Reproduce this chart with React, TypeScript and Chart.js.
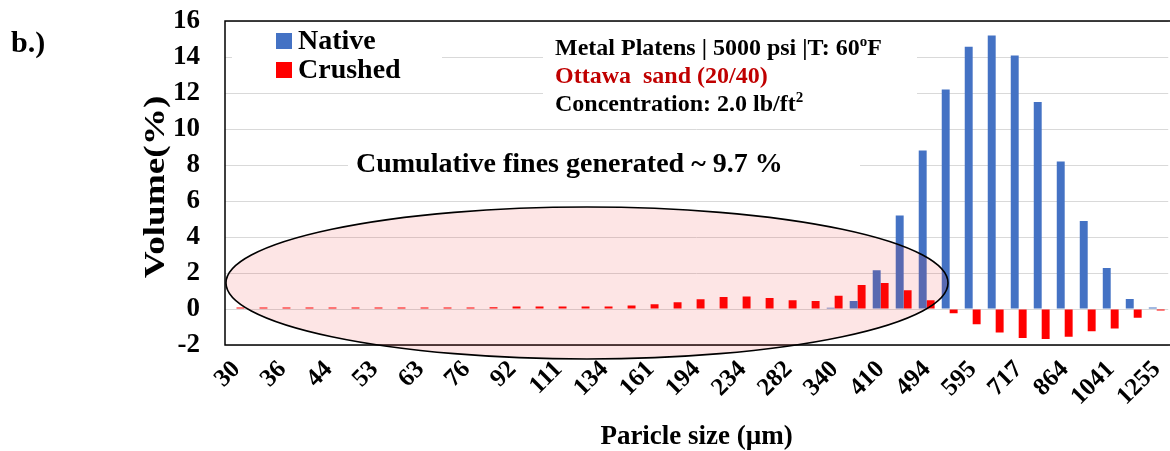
import { useEffect, useRef } from "react";
import { Chart, registerables } from "chart.js";

Chart.register(...registerables);

// Sieve bin sizes (µm); every other bin is labelled on the axis
const particleSizes = [
  "30", "33", "36", "40", "44", "48", "53", "58", "63", "69", "76", "84", "92", "101",
  "111", "122", "134", "147", "161", "177", "194", "213", "234", "257", "282", "310",
  "340", "373", "410", "450", "494", "542", "595", "653", "717", "787", "864", "949",
  "1041", "1143", "1255",
];

// Volume fraction (%) per bin for the native proppant
const nativeVolume = [
  0, 0, 0, 0, 0, 0, 0, 0, 0, 0, 0, 0, 0, 0, 0, 0, 0, 0, 0, 0, 0, 0, 0, 0, 0, 0,
  0.07, 0.44, 2.15, 5.19, 8.81, 12.2, 14.57, 15.2, 14.09, 11.5, 8.19, 4.89, 2.28, 0.56, 0.09,
];

// Change in volume fraction (%) per bin after crushing
const crushedVolume = [
  0.09, 0.09, 0.09, 0.09, 0.09, 0.09, 0.09, 0.09, 0.09, 0.09, 0.09, 0.1,
  0.14, 0.14, 0.14, 0.14, 0.14, 0.19, 0.26, 0.38, 0.54, 0.67, 0.7, 0.61, 0.48, 0.44,
  0.74, 1.33, 1.44, 1.04, 0.48, -0.24, -0.85, -1.31, -1.61, -1.67, -1.54, -1.24, -1.09, -0.48, -0.09,
];

const yMin = -2;
const yMax = 16;
const yStep = 2;

const SERIF = '"Liberation Serif", "Times New Roman", serif';
const boldFont = (px: number) => `bold ${px}px ${SERIF}`;

type Run = { text: string; size: number; color?: string; dy?: number };

function drawRuns(ctx: CanvasRenderingContext2D, x: number, y: number, runs: Run[]) {
  let cx = x;
  ctx.textAlign = "left";
  ctx.textBaseline = "alphabetic";
  for (const r of runs) {
    ctx.font = boldFont(r.size);
    ctx.fillStyle = r.color || "#000";
    ctx.fillText(r.text, cx, y + (r.dy || 0));
    cx += ctx.measureText(r.text).width;
  }
}

// White-filled text boxes that sit above the gridlines
const textBoxes = [
  { x: 232, y: 25, w: 210, h: 60 },
  { x: 543, y: 27, w: 374, h: 93 },
  { x: 348, y: 140, w: 512, h: 45 },
];

const decorPlugin = {
  id: "decor",
  beforeDatasetsDraw(chart: any) {
    const ctx: CanvasRenderingContext2D = chart.ctx;
    ctx.save();
    ctx.fillStyle = "#fff";
    textBoxes.forEach((b) => ctx.fillRect(b.x, b.y, b.w, b.h));
    ctx.restore();
  },
  afterDatasetsDraw(chart: any) {
    const ctx: CanvasRenderingContext2D = chart.ctx;
    const a = chart.chartArea;
    ctx.save();

    // plot frame
    ctx.strokeStyle = "#000";
    ctx.lineWidth = 1.5;
    ctx.beginPath();
    ctx.moveTo(a.right + 10, a.top);
    ctx.lineTo(a.left, a.top);
    ctx.lineTo(a.left, a.bottom);
    ctx.lineTo(a.right + 10, a.bottom);
    ctx.stroke();

    // highlighted fines region
    ctx.beginPath();
    ctx.ellipse(587, 283, 361, 76, 0, 0, Math.PI * 2);
    ctx.fillStyle = "rgba(240, 40, 40, 0.12)";
    ctx.fill();
    ctx.strokeStyle = "#000";
    ctx.lineWidth = 1.6;
    ctx.stroke();

    // legend
    ctx.fillStyle = "#4472C4";
    ctx.fillRect(276, 33, 16, 16);
    ctx.fillStyle = "#FF0000";
    ctx.fillRect(276, 62, 16, 16);
    drawRuns(ctx, 298, 49, [{ text: "Native", size: 28 }]);
    drawRuns(ctx, 298, 78, [{ text: "Crushed", size: 28 }]);

    // test conditions
    drawRuns(ctx, 555, 55, [
      { text: "Metal Platens | 5000 psi |T: 60", size: 24 },
      { text: "o", size: 15, dy: -9 },
      { text: "F", size: 24 },
    ]);
    drawRuns(ctx, 555, 83, [{ text: "Ottawa  sand (20/40)", size: 24, color: "#C00000" }]);
    drawRuns(ctx, 555, 111, [
      { text: "Concentration: 2.0 lb/ft", size: 24 },
      { text: "2", size: 15, dy: -9 },
    ]);

    drawRuns(ctx, 356, 172, [{ text: "Cumulative fines generated ~ 9.7 %", size: 28 }]);

    // panel tag
    drawRuns(ctx, 11, 52, [{ text: "b.)", size: 30 }]);

    // axis titles
    ctx.fillStyle = "#000";
    ctx.font = boldFont(27);
    ctx.textAlign = "center";
    ctx.textBaseline = "alphabetic";
    ctx.fillText("Paricle size (µm)", (a.left + a.right) / 2, 444);

    ctx.translate(156, 187);
    ctx.rotate(-Math.PI / 2);
    ctx.scale(1.24, 1);
    ctx.font = boldFont(30);
    ctx.textBaseline = "middle";
    ctx.fillText("Volume(%)", 0, 0);

    ctx.restore();
  },
};

export default function App() {
  const canvasRef = useRef<HTMLCanvasElement | null>(null);

  useEffect(() => {
    document.body.style.margin = "0";
    const canvas = canvasRef.current;
    if (!canvas) return;
    const chart = new Chart(canvas, {
      type: "bar",
      data: {
        labels: particleSizes,
        datasets: [
          {
            label: "Native",
            data: nativeVolume,
            backgroundColor: "#4472C4",
            categoryPercentage: 0.69,
            barPercentage: 1.0,
          },
          {
            label: "Crushed",
            data: crushedVolume,
            backgroundColor: "#FF0000",
            categoryPercentage: 0.69,
            barPercentage: 1.0,
          },
        ],
      },
      options: {
        responsive: false,
        animation: false,
        devicePixelRatio: 1,
        layout: { padding: { top: 21, right: 5, left: 0, bottom: 0 } },
        plugins: {
          legend: { display: false },
          tooltip: { enabled: false },
        },
        scales: {
          x: {
            grid: { display: false },
            border: { display: false },
            ticks: {
              autoSkip: false,
              maxRotation: 45,
              minRotation: 45,
              padding: 2,
              color: "#000",
              font: { family: SERIF, size: 25, weight: "bold" },
              callback: (_v: any, i: number) => (i % 2 === 0 ? particleSizes[i] : ""),
            },
            afterFit: (scale: any) => {
              scale.height = 106;
            },
          },
          y: {
            min: yMin,
            max: yMax,
            grid: { color: "#D9D9D9", lineWidth: 1, drawTicks: false },
            border: { display: false },
            ticks: {
              stepSize: yStep,
              autoSkip: false,
              padding: 25,
              color: "#000",
              font: { family: SERIF, size: 27, weight: "bold" },
            },
            afterFit: (scale: any) => {
              scale.width = 225;
              scale.paddingTop = 0;
              scale.paddingBottom = 0;
            },
          },
        },
      },
      plugins: [decorPlugin],
    });
    return () => chart.destroy();
  }, []);

  return (
    <div style={{ width: 1170, height: 451, overflow: "hidden" }}>
      <canvas ref={canvasRef} width={1180} height={451} style={{ display: "block" }} />
    </div>
  );
}
